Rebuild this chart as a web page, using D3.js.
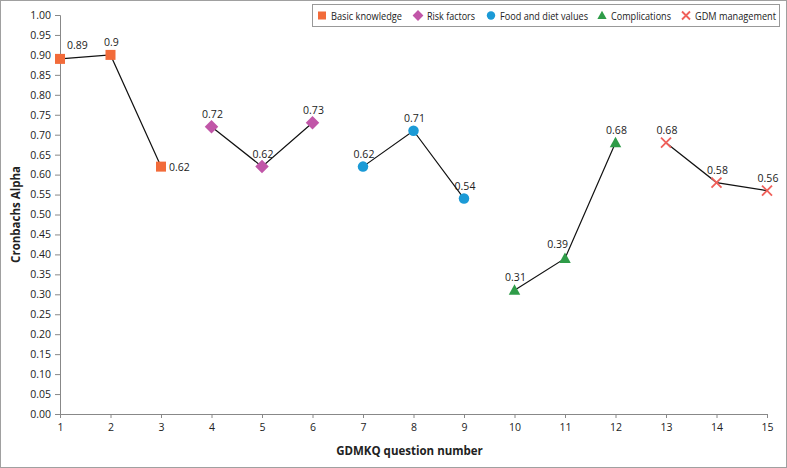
<!DOCTYPE html>
<html>
<head>
<meta charset="utf-8">
<script src="https://cdn.jsdelivr.net/npm/d3@7"></script>
<style>
  body { margin: 0; background: #fff; }
  svg text { font-family: "Open Sans", "Noto Sans", sans-serif; fill: #222; }
</style>
</head>
<body>
<div id="chart"></div>
<script>
const groups = ['Basic knowledge', 'Risk factors', 'Food and diet values', 'Complications', 'GDM management'];
const questions = [[1, 2, 3], [4, 5, 6], [7, 8, 9], [10, 11, 12], [13, 14, 15]];
const alphas = [[0.89, 0.9, 0.62], [0.72, 0.62, 0.73], [0.62, 0.71, 0.54], [0.31, 0.39, 0.68], [0.68, 0.58, 0.56]];
const labelText = [['0.89', '0.9', '0.62'], ['0.72', '0.62', '0.73'], ['0.62', '0.71', '0.54'], ['0.31', '0.39', '0.68'], ['0.68', '0.58', '0.56']];
// where each value label sits relative to its marker
const labelPos = [['ur', 'u', 'r'], ['u', 'u', 'u'], ['u', 'u', 'u'], ['u', 'ul', 'u'], ['u', 'u', 'u']];
const colors = ['#f26b3a', '#c156a8', '#1b9ad6', '#2e9c48', '#f0605a'];
const shapes = ['square', 'diamond', 'circle', 'triangle', 'cross'];
const yTicks = d3.range(0, 1.0001, 0.05);
const xTicks = d3.range(1, 16);

const width = 787, height = 468;
const margin = { left: 60, right: 20, top: 15, bottom: 54 };

const svg = d3.select('#chart').append('svg')
  .attr('width', width)
  .attr('height', height);

svg.append('rect')
  .attr('x', 0.5).attr('y', 0.5)
  .attr('width', width - 1).attr('height', height - 1)
  .attr('fill', '#fff').attr('stroke', '#a0a0a0');

const x = d3.scaleLinear().domain([1, 15]).range([margin.left, width - margin.right]);
const y = d3.scaleLinear().domain([0, 1]).range([height - margin.bottom, margin.top]);

// axes
const yAxis = svg.append('g')
  .attr('transform', `translate(${margin.left},0)`)
  .call(d3.axisLeft(y).tickValues(yTicks).tickFormat(d3.format('.2f')).tickSize(5).tickPadding(4));
yAxis.select('.domain').attr('stroke', '#888');
yAxis.selectAll('.tick line').attr('stroke', '#888');
yAxis.selectAll('.tick text').style('font-size', '10.5px').attr('fill', '#333');

const xAxis = svg.append('g')
  .attr('transform', `translate(0,${y(0)})`)
  .call(d3.axisBottom(x).tickValues(xTicks).tickFormat(d3.format('d')).tickSize(4).tickPadding(6));
xAxis.select('.domain').attr('stroke', '#888');
xAxis.selectAll('.tick line').attr('stroke', '#888');
xAxis.selectAll('.tick text').style('font-size', '10.5px').attr('fill', '#333');

svg.append('text')
  .attr('transform', `translate(20,${(y(0) + y(1)) / 2}) rotate(-90)`)
  .attr('text-anchor', 'middle')
  .style('font-size', '11.5px').style('font-weight', 'bold')
  .text('Cronbachs Alpha');

svg.append('text')
  .attr('x', (x(1) + x(15)) / 2 - 4)
  .attr('y', 455)
  .attr('text-anchor', 'middle')
  .style('font-size', '11.5px').style('font-weight', 'bold')
  .text('GDMKQ question number');

function drawShape(g, shape, color, s) {
  if (shape === 'square') {
    g.append('rect').attr('x', -s).attr('y', -s).attr('width', 2 * s).attr('height', 2 * s).attr('fill', color);
  } else if (shape === 'diamond') {
    g.append('path').attr('d', `M0,${-s * 1.35}L${s * 1.35},0L0,${s * 1.35}L${-s * 1.35},0Z`).attr('fill', color);
  } else if (shape === 'circle') {
    g.append('circle').attr('r', s * 1.05).attr('fill', color);
  } else if (shape === 'triangle') {
    g.append('path').attr('d', `M0,${-s * 1.2}L${s * 1.15},${s * 0.9}L${-s * 1.15},${s * 0.9}Z`).attr('fill', color);
  } else {
    g.append('path').attr('d', `M${-s},${-s}L${s},${s}M${s},${-s}L${-s},${s}`)
      .attr('stroke', color).attr('stroke-width', 1.8).attr('fill', 'none');
  }
}

const line = d3.line().x(d => x(d[0])).y(d => y(d[1]));

groups.forEach((name, gi) => {
  const pts = questions[gi].map((q, i) => [q, alphas[gi][i]]);
  svg.append('path')
    .attr('d', line(pts))
    .attr('fill', 'none')
    .attr('stroke', '#111')
    .attr('stroke-width', 1.2);

  pts.forEach((p, i) => {
    const g = svg.append('g').attr('transform', `translate(${x(p[0])},${y(p[1])})`);
    drawShape(g, shapes[gi], colors[gi], 5);
    const pos = labelPos[gi][i];
    const t = svg.append('text')
      .style('font-size', '10.5px')
      .attr('fill', '#222')
      .text(labelText[gi][i]);
    if (pos === 'u') {
      t.attr('x', x(p[0]) + 1).attr('y', y(p[1]) - 9).attr('text-anchor', 'middle');
    } else if (pos === 'ul') {
      t.attr('x', x(p[0]) + 3).attr('y', y(p[1]) - 10).attr('text-anchor', 'end');
    } else if (pos === 'ur') {
      t.attr('x', x(p[0]) + 7).attr('y', y(p[1]) - 10).attr('text-anchor', 'start');
    } else {
      t.attr('x', x(p[0]) + 8).attr('y', y(p[1]) + 4).attr('text-anchor', 'start');
    }
  });
});

// legend
const legendX = [322, 418, 491, 602, 686];
const legendW = [71, 48, 88, 60, 81];
const legend = svg.append('g');
legend.append('rect')
  .attr('x', 312.5).attr('y', 4.5)
  .attr('width', 467).attr('height', 22)
  .attr('fill', '#fff').attr('stroke', '#999');

groups.forEach((name, gi) => {
  const g = legend.append('g').attr('transform', `translate(${legendX[gi]},15.5)`);
  drawShape(g, shapes[gi], colors[gi], 4);
  legend.append('text')
    .attr('x', legendX[gi] + 9).attr('y', 19.5)
    .attr('textLength', legendW[gi])
    .attr('lengthAdjust', 'spacingAndGlyphs')
    .style('font-size', '10.5px')
    .text(name);
});
</script>
</body>
</html>
